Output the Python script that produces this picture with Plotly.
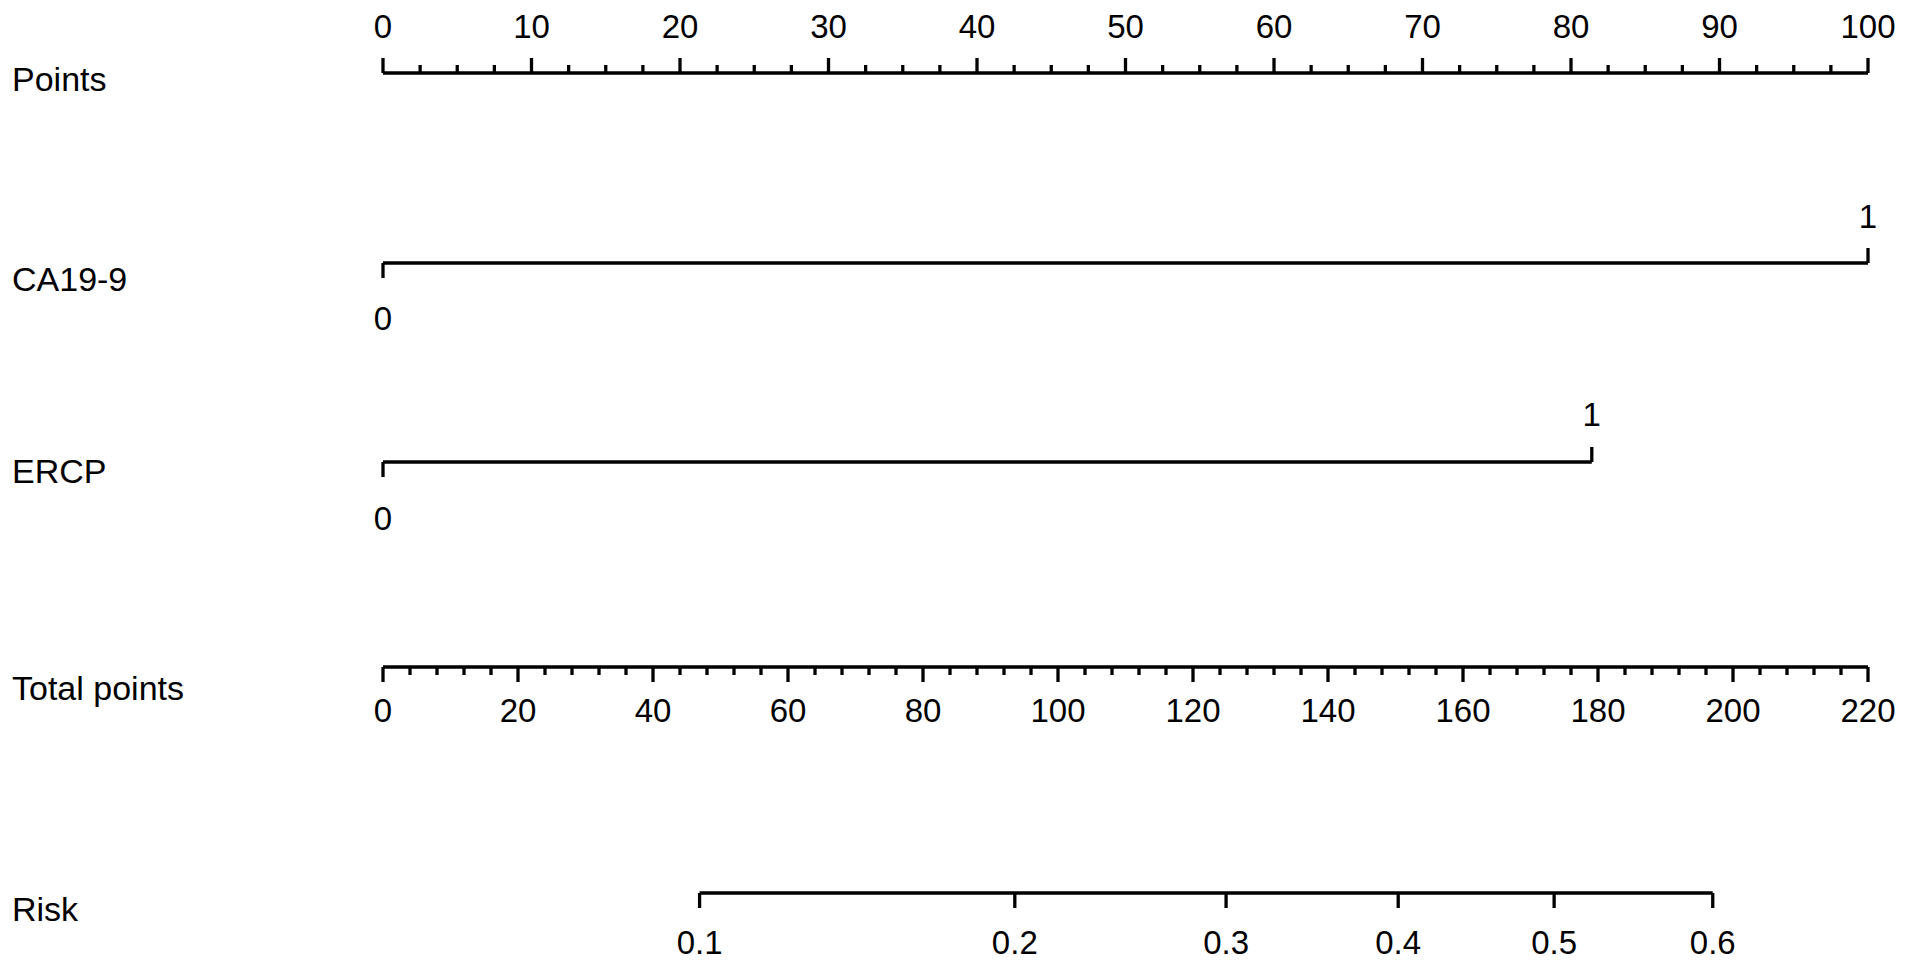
import plotly.graph_objects as go

# ---------------- data ----------------
points_major = [0, 10, 20, 30, 40, 50, 60, 70, 80, 90, 100]
points_minor_step = 2.5
ca199_levels = ["0", "1"]
ca199_points = [0, 100]
ercp_levels = ["0", "1"]
ercp_points = [0, 81.4]
total_major = [0, 20, 40, 60, 80, 100, 120, 140, 160, 180, 200, 220]
total_minor_step = 4
total_max = 220
risk_labels = ["0.1", "0.2", "0.3", "0.4", "0.5", "0.6"]
risk_total_points = [46.9, 93.6, 124.9, 150.4, 173.5, 197.0]
row_names = ["Points", "CA19-9", "ERCP", "Total points", "Risk"]

# ---------------- layout constants (pixel rows) ----------------
W, H = 1913, 964
X0_PX, PX_PER_PT = 383, 14.85
rows = {"Points": 73, "CA19-9": 263, "ERCP": 462, "Total points": 667, "Risk": 893}
name_y = {"Points": 82, "CA19-9": 282, "ERCP": 474, "Total points": 691, "Risk": 912}
tick_label_y = {"Points": 30, "CA19-9_hi": 220, "CA19-9_lo": 322,
                "ERCP_hi": 418, "ERCP_lo": 522, "Total points": 714, "Risk": 946}
MAJ, MIN = 15, 8
FONT = "Liberation Sans, Arial, Helvetica, sans-serif"
FS = 33
FS_NAME = 34
LW = 3.3

def tp_to_pts(v):
    return v * 100.0 / total_max

fig = go.Figure()

def add_segments(xs_pairs, ys_pairs):
    xs, ys = [], []
    for (xa, xb), (ya, yb) in zip(xs_pairs, ys_pairs):
        xs += [xa, xb, None]
        ys += [ya, yb, None]
    fig.add_trace(go.Scatter(x=xs, y=ys, mode="lines",
                             line=dict(color="black", width=LW),
                             hoverinfo="skip", showlegend=False))

def add_text(xs, ys, texts, pos="middle center", size=FS):
    fig.add_trace(go.Scatter(x=xs, y=ys, mode="text", text=texts,
                             textposition=pos,
                             textfont=dict(family=FONT, size=size, color="black"),
                             hoverinfo="skip", showlegend=False))

# Points axis (ticks up)
y = rows["Points"]
n_minor = int(round(100 / points_minor_step))
minor_vals = [i * points_minor_step for i in range(n_minor + 1)]
segx = [(0, 100)]
segy = [(y, y)]
for v in minor_vals:
    L = MAJ if v in points_major else MIN
    segx.append((v, v))
    segy.append((y, y - L))
add_segments(segx, segy)
add_text(points_major, [tick_label_y["Points"]] * len(points_major),
         [str(v) for v in points_major])

# CA19-9
y = rows["CA19-9"]
add_segments([(ca199_points[0], ca199_points[1]), (ca199_points[0], ca199_points[0]),
              (ca199_points[1], ca199_points[1])],
             [(y, y), (y, y + MAJ), (y, y - MAJ)])
add_text([ca199_points[1]], [tick_label_y["CA19-9_hi"]], [ca199_levels[1]])
add_text([ca199_points[0]], [tick_label_y["CA19-9_lo"]], [ca199_levels[0]])

# ERCP
y = rows["ERCP"]
add_segments([(ercp_points[0], ercp_points[1]), (ercp_points[0], ercp_points[0]),
              (ercp_points[1], ercp_points[1])],
             [(y, y), (y, y + MAJ), (y, y - MAJ)])
add_text([ercp_points[1]], [tick_label_y["ERCP_hi"]], [ercp_levels[1]])
add_text([ercp_points[0]], [tick_label_y["ERCP_lo"]], [ercp_levels[0]])

# Total points (ticks down)
y = rows["Total points"]
segx = [(0, 100)]
segy = [(y, y)]
for i in range(int(total_max / total_minor_step) + 1):
    v = i * total_minor_step
    L = MAJ if v in total_major else MIN
    segx.append((tp_to_pts(v), tp_to_pts(v)))
    segy.append((y, y + L))
add_segments(segx, segy)
add_text([tp_to_pts(v) for v in total_major],
         [tick_label_y["Total points"]] * len(total_major),
         [str(v) for v in total_major])

# Risk (ticks down)
y = rows["Risk"]
rp = [tp_to_pts(v) for v in risk_total_points]
segx = [(rp[0], rp[-1])] + [(p, p) for p in rp]
segy = [(y, y)] + [(y, y + MAJ) for _ in rp]
add_segments(segx, segy)
add_text(rp, [tick_label_y["Risk"]] * len(rp), risk_labels)

# Row names
x_name = (12 - X0_PX) / PX_PER_PT
add_text([x_name] * len(row_names), [name_y[n] for n in row_names],
         row_names, pos="middle right", size=FS_NAME)

fig.update_layout(
    width=W, height=H,
    margin=dict(l=0, r=0, t=0, b=0),
    paper_bgcolor="white", plot_bgcolor="white",
    xaxis=dict(range=[(0 - X0_PX) / PX_PER_PT, (W - X0_PX) / PX_PER_PT],
               visible=False, fixedrange=True),
    yaxis=dict(range=[H, 0], visible=False, fixedrange=True),
    showlegend=False,
)

fig.write_html("out.html", config={"displayModeBar": False},
               post_script="document.body.style.margin='0';document.body.style.overflow='hidden';")
